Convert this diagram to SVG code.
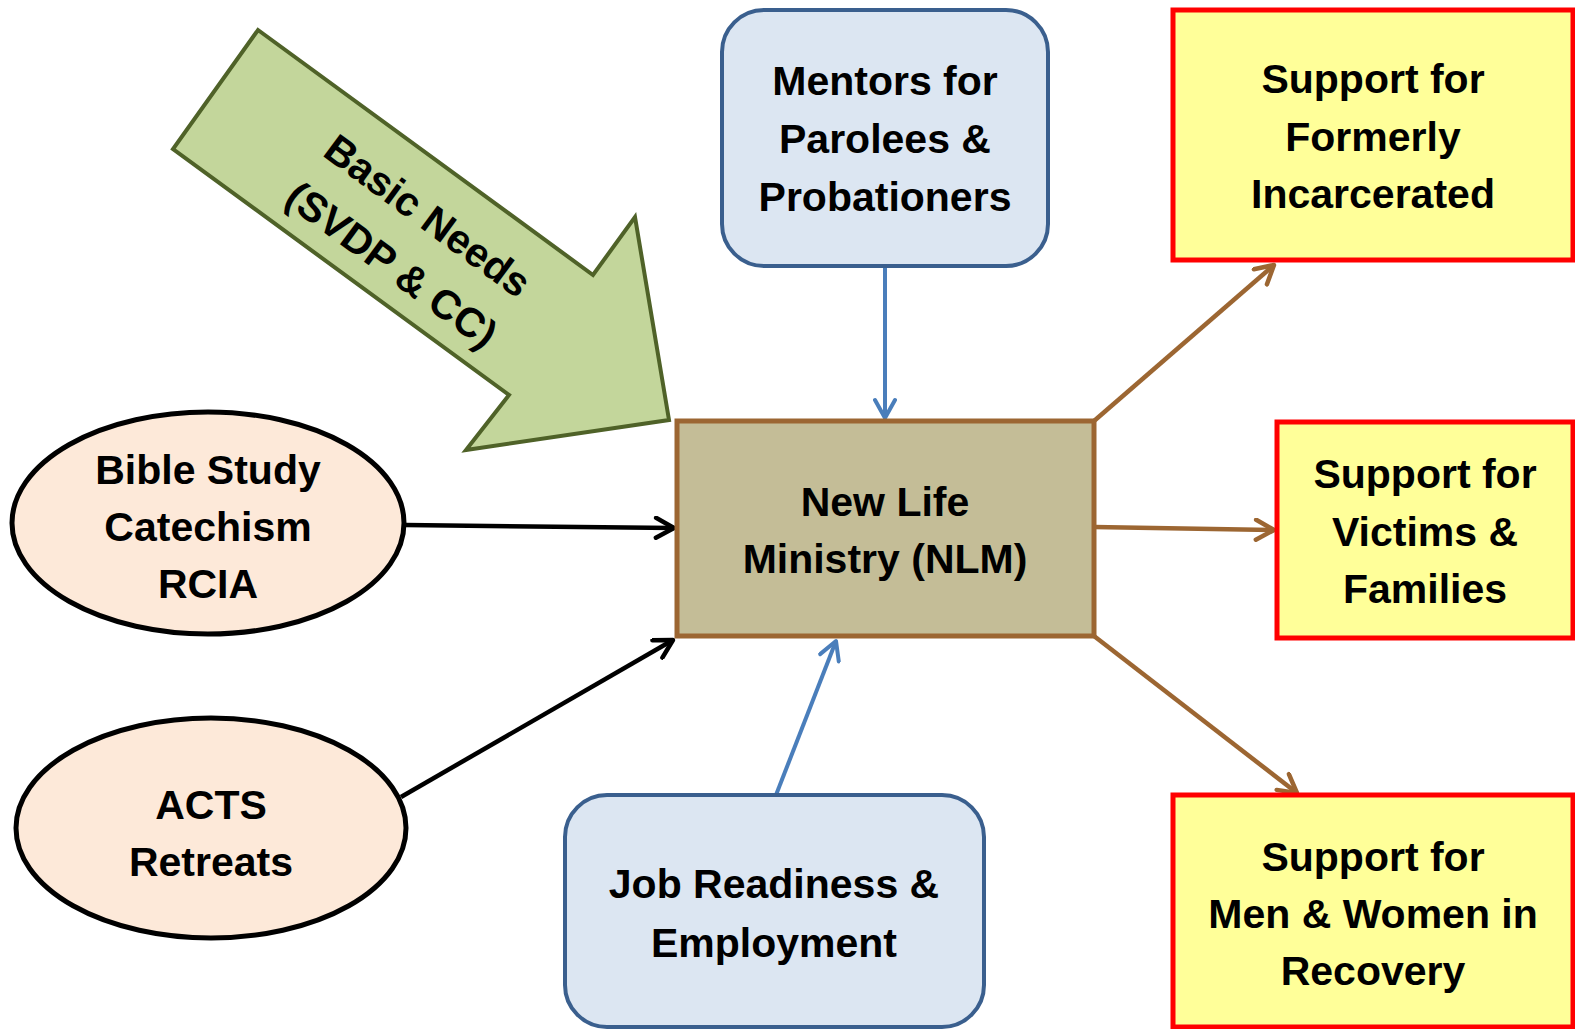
<svg xmlns="http://www.w3.org/2000/svg" width="1575" height="1029" viewBox="0 0 1575 1029">
<style>
  text { font-family: "Liberation Sans", Arial, sans-serif; font-weight: bold; font-size: 41px; fill: #000; text-anchor: middle; }
  .blue { fill: #DCE6F2; stroke: #3A5F8E; stroke-width: 4; }
  .yellow { fill: #FFFF99; stroke: #FF0000; stroke-width: 5; }
  .oval { fill: #FDE9D9; stroke: #000; stroke-width: 5; }
  .core { fill: #C4BD97; stroke: #9C6632; stroke-width: 5; }
  .c-black { stroke: #000; stroke-width: 4.5; fill: none; marker-end: url(#mBlack); }
  .c-blue { stroke: #4A7EBB; stroke-width: 4; fill: none; marker-end: url(#mBlue); }
  .c-brown { stroke: #9C6632; stroke-width: 4.5; fill: none; marker-end: url(#mBrown); }
</style>
<defs>
  <marker id="mBlack" viewBox="0 0 24 24" refX="21" refY="12" markerWidth="24" markerHeight="24" markerUnits="userSpaceOnUse" orient="auto">
    <path d="M3,2 L21,12 L3,22" fill="none" stroke="#000" stroke-width="4.5" stroke-linecap="round" stroke-linejoin="round"/>
  </marker>
  <marker id="mBlue" viewBox="0 0 24 24" refX="21" refY="12" markerWidth="24" markerHeight="24" markerUnits="userSpaceOnUse" orient="auto">
    <path d="M3,2 L21,12 L3,22" fill="none" stroke="#4A7EBB" stroke-width="4" stroke-linecap="round" stroke-linejoin="round"/>
  </marker>
  <marker id="mBrown" viewBox="0 0 24 24" refX="21" refY="12" markerWidth="24" markerHeight="24" markerUnits="userSpaceOnUse" orient="auto">
    <path d="M3,2 L21,12 L3,22" fill="none" stroke="#9C6632" stroke-width="4.5" stroke-linecap="round" stroke-linejoin="round"/>
  </marker>
</defs>
<rect width="1575" height="1029" fill="#FFFFFF"/>

<g id="connectors">
  <line class="c-blue" x1="885" y1="267" x2="885" y2="418"/>
  <line class="c-blue" x1="776" y1="795" x2="836" y2="641"/>
  <line class="c-black" x1="405" y1="525" x2="674" y2="528"/>
  <line class="c-black" x1="401" y1="797" x2="673" y2="640"/>
  <line class="c-brown" x1="1094" y1="421" x2="1274" y2="265"/>
  <line class="c-brown" x1="1094" y1="527" x2="1274" y2="530"/>
  <line class="c-brown" x1="1094" y1="636" x2="1297" y2="793"/>
</g>

<g id="basic-needs">
  <polygon points="258,30 593,275 635,217 669,420 466,450 509,395 173,149" fill="#C3D69B" stroke="#4F6228" stroke-width="4" stroke-linejoin="miter"/>
  <g transform="translate(410,240) rotate(36.3)">
    <text x="0" y="-16">Basic Needs</text>
    <text x="0" y="45">(SVDP &amp; CC)</text>
  </g>
</g>

<g id="mentors">
  <rect class="blue" x="722" y="10" width="326" height="256" rx="42"/>
  <text x="885" y="95">Mentors for</text>
  <text x="885" y="153">Parolees &amp;</text>
  <text x="885" y="211">Probationers</text>
</g>

<g id="nlm">
  <rect class="core" x="677" y="421" width="417" height="215"/>
  <text x="885" y="516">New Life</text>
  <text x="885" y="573">Ministry (NLM)</text>
</g>

<g id="job">
  <rect class="blue" x="565" y="795" width="419" height="232" rx="42"/>
  <text x="774" y="898">Job Readiness &amp;</text>
  <text x="774" y="957">Employment</text>
</g>

<g id="bible">
  <ellipse class="oval" cx="208" cy="523" rx="196" ry="111"/>
  <text x="208" y="484">Bible Study</text>
  <text x="208" y="541">Catechism</text>
  <text x="208" y="598">RCIA</text>
</g>

<g id="acts">
  <ellipse class="oval" cx="211" cy="828" rx="195" ry="110"/>
  <text x="211" y="819">ACTS</text>
  <text x="211" y="876">Retreats</text>
</g>

<g id="formerly">
  <rect class="yellow" x="1173" y="10" width="400" height="250"/>
  <text x="1373" y="93">Support for</text>
  <text x="1373" y="151">Formerly</text>
  <text x="1373" y="208">Incarcerated</text>
</g>

<g id="victims">
  <rect class="yellow" x="1277" y="422" width="296" height="216"/>
  <text x="1425" y="488">Support for</text>
  <text x="1425" y="546">Victims &amp;</text>
  <text x="1425" y="603">Families</text>
</g>

<g id="recovery">
  <rect class="yellow" x="1173" y="795" width="400" height="232"/>
  <text x="1373" y="871">Support for</text>
  <text x="1373" y="928">Men &amp; Women in</text>
  <text x="1373" y="985">Recovery</text>
</g>
</svg>
